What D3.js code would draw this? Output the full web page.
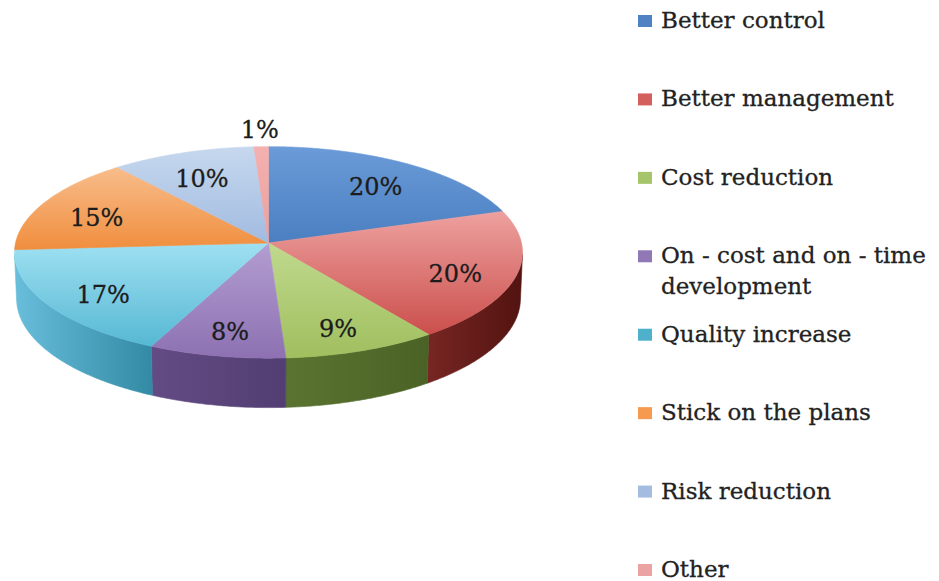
<!DOCTYPE html>
<html>
<head>
<meta charset="utf-8">
<script src="https://cdn.jsdelivr.net/npm/d3@7"></script>
<style>
  html, body { margin: 0; background: #ffffff; }
  svg { display: block; }
</style>
</head>
<body>
<svg id="chart" width="939" height="581"></svg>
<script>
// Reasons given, share of answers (%)
const categories = [
  "Better control",
  "Better management",
  "Cost reduction",
  "On - cost and on - time development",
  "Quality increase",
  "Stick on the plans",
  "Risk reduction",
  "Other"
];
const shares = [20, 20, 9, 8, 17, 15, 10, 1];

// Slice palette: top face (light → deep), side wall (left → right), legend key
const topLight  = ["#6b9bd8", "#eda19f", "#c0d98e", "#b39dd1", "#9fe0f2", "#f8bd8b", "#c6d8ee", "#f3b1af"];
const topDeep   = ["#4a7fc1", "#cb4f4c", "#a0bf5e", "#8d71b2", "#56b8d3", "#f08e3e", "#a1bbe0", "#ec9f9d"];
const sideLight = ["#3d6aa1", "#772623", "#5a7430", "#634b84", "#68bedb", "#c4732f", "#7f97b8", "#b77876"];
const sideDeep  = ["#2f5482", "#521310", "#4b6226", "#523e72", "#338aa4", "#a65d22", "#6c82a2", "#9e6260"];
const keyColors = ["#4f82c2", "#d4605d", "#a6c56a", "#9077b6", "#4fb0cc", "#f59a4f", "#a3bce0", "#eaa3a2"];

const svg = d3.select("#chart");
const defs = svg.append("defs");

// Perspective view of a flat cylinder (3‑D pie)
const R = 253, H = 51;
const tilt = 24.5 * Math.PI / 180;
const dist = 2593;
const cx = 268.5, cy = 243;

function project(theta, r, y) {
  const X = r * Math.sin(theta), Z = r * Math.cos(theta);
  const up = Z * Math.sin(tilt) + y * Math.cos(tilt);
  const depth = Z * Math.cos(tilt) - y * Math.sin(tilt);
  const s = dist / (dist + depth);
  return [cx + X * s, cy - up * s];
}

function arcPoints(a0, a1, r, y) {
  const n = Math.max(2, Math.ceil((a1 - a0) / (Math.PI / 360)));
  return d3.range(n + 1).map(i => project(a0 + (a1 - a0) * i / n, r, y));
}

const line = d3.line();
const arcs = d3.pie().sort(null).value(d => d)(shares);

// Side wall is visible only where it faces the viewer
const thetaMin = Math.acos(-R / (dist * Math.cos(tilt)));
const thetaMax = 2 * Math.PI - thetaMin;

arcs.forEach((a, i) => {
  const gt = defs.append("linearGradient").attr("id", "top" + i)
    .attr("x1", 0).attr("y1", 0).attr("x2", 0).attr("y2", 1);
  gt.append("stop").attr("offset", "0%").attr("stop-color", topLight[i]);
  gt.append("stop").attr("offset", "100%").attr("stop-color", topDeep[i]);
  const gs = defs.append("linearGradient").attr("id", "side" + i)
    .attr("x1", 0).attr("y1", 0).attr("x2", 1).attr("y2", 0);
  gs.append("stop").attr("offset", "0%").attr("stop-color", sideLight[i]);
  gs.append("stop").attr("offset", "100%").attr("stop-color", sideDeep[i]);
});

const pie = svg.append("g").attr("class", "pie");

// side walls
pie.append("g").selectAll("path")
  .data(arcs.map((a, i) => ({ a, i }))
    .filter(d => Math.min(d.a.endAngle, thetaMax) > Math.max(d.a.startAngle, thetaMin)))
  .join("path")
  .attr("d", d => {
    const s0 = Math.max(d.a.startAngle, thetaMin);
    const s1 = Math.min(d.a.endAngle, thetaMax);
    const upper = arcPoints(s0, s1, R, 0);
    const lower = arcPoints(s0, s1, R, -H).reverse();
    return line(upper.concat(lower)) + "Z";
  })
  .attr("fill", d => `url(#side${d.i})`)
  .attr("stroke", d => `url(#side${d.i})`)
  .attr("stroke-width", 0.6);

// top faces
pie.append("g").selectAll("path")
  .data(arcs)
  .join("path")
  .attr("d", a => line([project(0, 0, 0)].concat(arcPoints(a.startAngle, a.endAngle, R, 0))) + "Z")
  .attr("fill", (a, i) => `url(#top${i})`)
  .attr("stroke", (a, i) => `url(#top${i})`)
  .attr("stroke-width", 0.6);

// value labels: inside the slice, or just beyond the rim for tiny slices
pie.append("g").selectAll("text")
  .data(arcs)
  .join("text")
  .attr("transform", a => {
    const mid = (a.startAngle + a.endAngle) / 2;
    const r = a.data < 3 ? R * 1.2 : R * 0.76;
    const [x, y] = project(mid, r, 0);
    return `translate(${x},${y})`;
  })
  .attr("text-anchor", "middle")
  .attr("dy", a => a.data < 3 ? "0.36em" : "0.56em")
  .attr("font-family", "'DejaVu Serif', 'Liberation Serif', serif")
  .attr("font-size", 24)
  .attr("fill", "#1c1c1c")
  .attr("stroke", "#1c1c1c")
  .attr("stroke-width", 0.3)
  .text(a => a.data + "%");

// legend
const legend = svg.append("g").attr("class", "legend")
  .attr("font-family", "'DejaVu Serif', 'Liberation Serif', serif")
  .attr("font-size", 23)
  .attr("fill", "#222222")
  .attr("stroke", "#222222")
  .attr("stroke-width", 0.3);

const rowY = d3.scalePoint().domain(d3.range(categories.length)).range([21, 570]);

categories.forEach((name, i) => {
  const g = legend.append("g").attr("transform", `translate(638,${rowY(i)})`);
  g.append("rect").attr("x", 0).attr("y", -6).attr("width", 14).attr("height", 12)
    .attr("fill", keyColors[i]).attr("stroke", "none");
  const t = g.append("text").attr("x", 23).attr("y", 7);
  // wrap long entries onto a second line
  const words = name.split(" ");
  let tspan = t.append("tspan").attr("x", 23);
  let current = [];
  words.forEach(w => {
    current.push(w);
    tspan.text(current.join(" "));
    if (tspan.node().getComputedTextLength() > 285 && current.length > 1) {
      current.pop();
      tspan.text(current.join(" "));
      current = [w];
      tspan = t.append("tspan").attr("x", 23).attr("dy", 31).text(w);
    }
  });
});
</script>
</body>
</html>
